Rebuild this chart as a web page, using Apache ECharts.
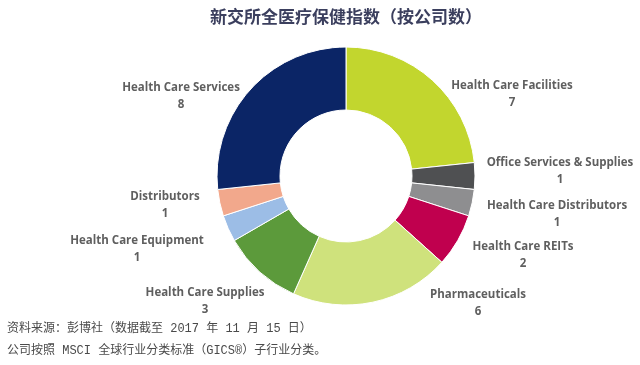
<!DOCTYPE html>
<html><head><meta charset="utf-8">
<script src="https://cdn.jsdelivr.net/npm/echarts@6/dist/echarts.min.js"></script>
<style>html,body{margin:0;padding:0;background:#fff}#c{width:640px;height:365px}</style>
</head><body><div id="c"></div>
<script>
var categories = ['Health Care Facilities','Office Services & Supplies','Health Care Distributors','Health Care REITs','Pharmaceuticals','Health Care Supplies','Health Care Equipment','Distributors','Health Care Services'];
var counts = [7,1,1,2,6,3,1,1,8];
var colors = ['#c2d62e','#4f5052','#8e8e90','#c0004e','#cfe27c','#5c9a3b','#9cbde6','#f2a88c','#0b2566'];
var labelPos = [[512,94],[560,171],[557,214],[523,255],[478,303],[205,301],[137,249],[165,205],[181,96]];
var title = '新交所全医疗保健指数（按公司数）';
var footer1 = '资料来源：彭博社（数据截至 2017 年 11 月 15 日）';
var footer2 = '公司按照 MSCI 全球行业分类标准（GICS®）子行业分类。';

var chart = echarts.init(document.getElementById('c'));
chart.setOption({
  animation: false,
  title: {text: title, left: 205, top: 3, textStyle: {fontFamily: 'Noto Sans CJK SC', fontSize: 17, fontWeight: 'bold', color: '#3b3f5e'}},
  graphic: [
    {type: 'text', left: 7, top: 323, style: {text: footer1, font: '12px "Liberation Mono", "Noto Sans CJK SC"', fill: '#4a4a4a'}},
    {type: 'text', left: 7, top: 345, style: {text: footer2, font: '12px "Liberation Mono", "Noto Sans CJK SC"', fill: '#4a4a4a'}}
  ],
  series: [{
    type: 'pie',
    center: [346, 176],
    radius: [66, 129],
    startAngle: 90,
    itemStyle: {borderColor: '#fff', borderWidth: 1},
    label: {show: true, position: 'outside', alignTo: 'none', overflow: 'none', formatter: '{b}\n{c}', fontFamily: 'Open Sans', fontSize: 11.5, fontWeight: 'bold', color: '#5f5f5f', lineHeight: 17, align: 'center'},
    labelLine: {show: false},
    labelLayout: function (p) {
      var pos = labelPos[p.dataIndex];
      return {x: pos[0], y: pos[1], align: 'center', verticalAlign: 'middle'};
    },
    data: categories.map(function (c, i) { return {name: c, value: counts[i], itemStyle: {color: colors[i]}}; })
  }]
});
</script></body></html>
